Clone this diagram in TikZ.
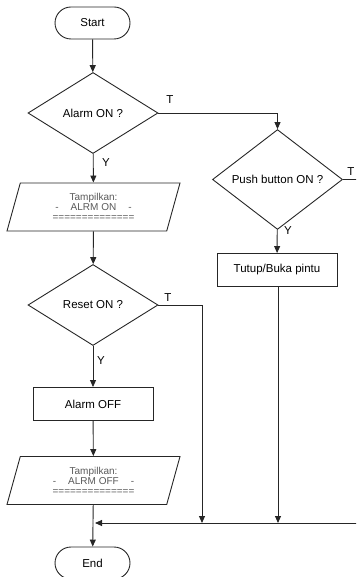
\documentclass[tikz,border=0pt]{standalone}
\usepackage{fontspec}
\setmainfont{Liberation Sans}
\usetikzlibrary{shapes.geometric,shapes.misc,arrows.meta}
\begin{document}
\begin{tikzpicture}[x=1pt,y=-1pt,
  line width=0.9pt,
  base/.style={draw=black!85, line width=0.9pt, inner sep=0pt,
    font=\fontsize{11.5}{13}\selectfont},
  term/.style={base, rounded rectangle, minimum width=75pt, minimum height=32pt},
  decision/.style={base, diamond, minimum width=130pt, minimum height=81pt},
  process/.style={base, rectangle, minimum width=120pt, minimum height=33pt},
  io/.style={base, trapezium, trapezium left angle=64, trapezium right angle=116,
    trapezium stretches body=true, minimum width=173pt, minimum height=48pt,
    align=center, text=black!65, font=\fontsize{10}{10}\selectfont},
  flow/.style={draw=black!85, line width=0.9pt, -{Triangle[length=7pt,width=6pt]}},
  line/.style={draw=black!85, line width=0.9pt},
  lbl/.style={font=\fontsize{11.5}{13}\selectfont, inner sep=0pt}
]
\useasboundingbox (0,0) rectangle (356,577);
\clip (0,0) rectangle (356,577);

% main column
\node[term] (start) at (92.5,23) {Start};
\node[decision] (alarm) at (93,113) {Alarm ON ?};
\node[io] (showon) at (93.5,207) {Tampilkan:\\-\hspace{1.2em}ALRM ON\hspace{1.2em}-\\==============};
\node[decision] (reset) at (93,305) {Reset ON ?};
\node[process] (alarmoff) at (93,404) {Alarm OFF};
\node[io] (showoff) at (93.5,480.5) {Tampilkan:\\-\hspace{1.2em}ALRM OFF\hspace{1.2em}-\\==============};
\node[term] (end) at (92.5,563) {End};

% right column
\node[decision] (push) at (277.5,179.5) {Push button ON ?};
\node[process] (door) at (277,270) {Tutup/Buka pintu};

% merge line and off-edge route
\coordinate (join) at (93,523);
\coordinate (resetdown) at (202,523);
\coordinate (doordown) at (278,523);
\coordinate (edgetop) at (365,179.5);
\coordinate (edgebot) at (365,523);

% connectors
\draw[flow] (start) -- (alarm);
\draw[flow] (alarm) -- (showon);
\draw[flow] (alarm.east) -| (push.north);
\draw[flow] (showon) -- (reset);
\draw[flow] (reset) -- (alarmoff);
\draw[line] (reset.east) -| (202,400);
\draw[flow] (202,400) -- (resetdown);
\draw[flow] (alarmoff) -- (showoff);
\draw[line] (showoff) -- (join);
\draw[flow] (join) -- (end);
\draw[flow] (push) -- (door);
\draw[flow] (door.south -| doordown) -- (doordown);
\draw[line] (push.east) -- (edgetop) -- (edgebot);
\draw[flow] (edgebot) -- ([xshift=2pt]join);

% branch labels
\node[lbl] at (170,100) {T};
\node[lbl] at (106,163) {Y};
\node[lbl] at (168,298) {T};
\node[lbl] at (101,361) {Y};
\node[lbl] at (351,172) {T};
\node[lbl] at (288,231) {Y};
\end{tikzpicture}
\end{document}
